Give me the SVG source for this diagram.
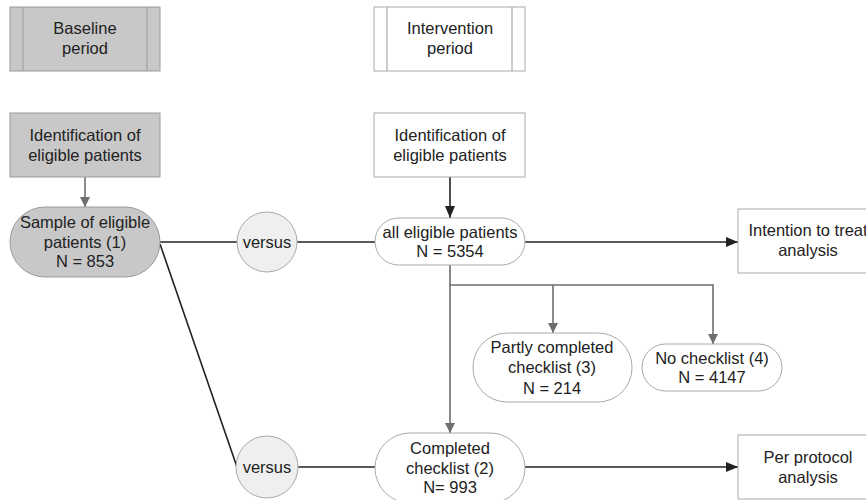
<svg xmlns="http://www.w3.org/2000/svg" width="866" height="500" viewBox="0 0 866 500">
<defs>
<style>
.t{font-family:"Liberation Sans",Arial,sans-serif;font-size:16.5px;fill:#222;text-anchor:middle}
.gray{fill:#c8c8c8;stroke:#9a9a9a;stroke-width:1}
.white{fill:#fff;stroke:#aaa;stroke-width:1}
.vs{fill:#efefef;stroke:#aaa;stroke-width:1}
.inner{stroke:#9a9a9a;stroke-width:1}
.k{stroke:#222;stroke-width:1.6;fill:none}
.g{stroke:#6e6e6e;stroke-width:1.6;fill:none}
</style>
<marker id="ak" viewBox="0 0 12 10" refX="12" refY="5" markerWidth="12" markerHeight="10" markerUnits="userSpaceOnUse" orient="auto">
<path d="M0,0 L12,5 L0,10 z" fill="#222"/>
</marker>
<marker id="ag" viewBox="0 0 10 10" refX="10" refY="5" markerWidth="10" markerHeight="10" markerUnits="userSpaceOnUse" orient="auto">
<path d="M0,0 L10,5 L0,10 z" fill="#6e6e6e"/>
</marker>
</defs>
<rect width="866" height="500" fill="#fff"/>

<g id="connectors">
<line class="g" x1="85" y1="177" x2="85" y2="207" marker-end="url(#ag)"/>
<line class="k" x1="450" y1="177" x2="450" y2="218" marker-end="url(#ak)"/>
<line class="k" x1="160" y1="242" x2="237" y2="242"/>
<line class="k" x1="297" y1="242" x2="375" y2="242"/>
<line class="k" x1="160" y1="244" x2="237" y2="467"/>
<line class="k" x1="298" y1="467" x2="375" y2="467"/>
<line class="k" x1="525" y1="242" x2="738" y2="242" marker-end="url(#ak)"/>
<line class="k" x1="525" y1="467" x2="738" y2="467" marker-end="url(#ak)"/>
<line class="g" x1="450" y1="265" x2="450" y2="433" marker-end="url(#ag)"/>
<polyline class="g" points="450,285 713,285 713,344" marker-end="url(#ag)"/>
<line class="g" x1="553" y1="285" x2="553" y2="333" marker-end="url(#ag)"/>
</g>

<g id="baseline-period">
<rect class="gray" x="10" y="7" width="150" height="64"/>
<line class="inner" x1="23" y1="7" x2="23" y2="71"/>
<line class="inner" x1="147" y1="7" x2="147" y2="71"/>
<text class="t" x="85" y="34">Baseline</text>
<text class="t" x="85" y="54">period</text>
</g>

<g id="intervention-period">
<rect class="white" x="374" y="7" width="151" height="64"/>
<line class="inner" x1="387" y1="7" x2="387" y2="71"/>
<line class="inner" x1="512" y1="7" x2="512" y2="71"/>
<text class="t" x="450" y="34">Intervention</text>
<text class="t" x="450" y="54">period</text>
</g>

<g id="baseline-identification">
<rect class="gray" x="10" y="113" width="150" height="64"/>
<text class="t" x="85" y="141">Identification of</text>
<text class="t" x="85" y="161">eligible patients</text>
</g>

<g id="intervention-identification">
<rect class="white" x="374" y="113" width="151" height="64"/>
<text class="t" x="450" y="141">Identification of</text>
<text class="t" x="450" y="161">eligible patients</text>
</g>

<g id="sample">
<rect class="gray" x="10" y="207" width="150" height="70" rx="35" ry="35"/>
<text class="t" x="85" y="228">Sample of eligible</text>
<text class="t" x="85" y="248">patients (1)</text>
<text class="t" x="85" y="267">N = 853</text>
</g>

<g id="versus1">
<circle class="vs" cx="267" cy="242" r="30"/>
<text class="t" x="267" y="248">versus</text>
</g>

<g id="all-eligible">
<rect class="white" x="375" y="218" width="150" height="47" rx="23.5" ry="23.5"/>
<text class="t" x="450" y="238">all eligible patients</text>
<text class="t" x="450" y="257">N = 5354</text>
</g>

<g id="intention-to-treat">
<rect class="white" x="738" y="209" width="140" height="64"/>
<text class="t" x="808" y="236">Intention to treat</text>
<text class="t" x="808" y="256">analysis</text>
</g>

<g id="partly-completed">
<rect class="white" x="473" y="333" width="159" height="69" rx="34" ry="34"/>
<text class="t" x="552" y="353">Partly completed</text>
<text class="t" x="552" y="373">checklist (3)</text>
<text class="t" x="552" y="394">N = 214</text>
</g>

<g id="no-checklist">
<rect class="white" x="642" y="344" width="140" height="47" rx="23.5" ry="23.5"/>
<text class="t" x="712" y="364">No checklist (4)</text>
<text class="t" x="712" y="383">N = 4147</text>
</g>

<g id="versus2">
<circle class="vs" cx="267" cy="467" r="31"/>
<text class="t" x="267" y="473">versus</text>
</g>

<g id="completed">
<rect class="white" x="375" y="433" width="150" height="70" rx="35" ry="35"/>
<text class="t" x="450" y="454">Completed</text>
<text class="t" x="450" y="474">checklist (2)</text>
<text class="t" x="450" y="493">N= 993</text>
</g>

<g id="per-protocol">
<rect class="white" x="738" y="435" width="140" height="64"/>
<text class="t" x="808" y="463">Per protocol</text>
<text class="t" x="808" y="483">analysis</text>
</g>
</svg>
